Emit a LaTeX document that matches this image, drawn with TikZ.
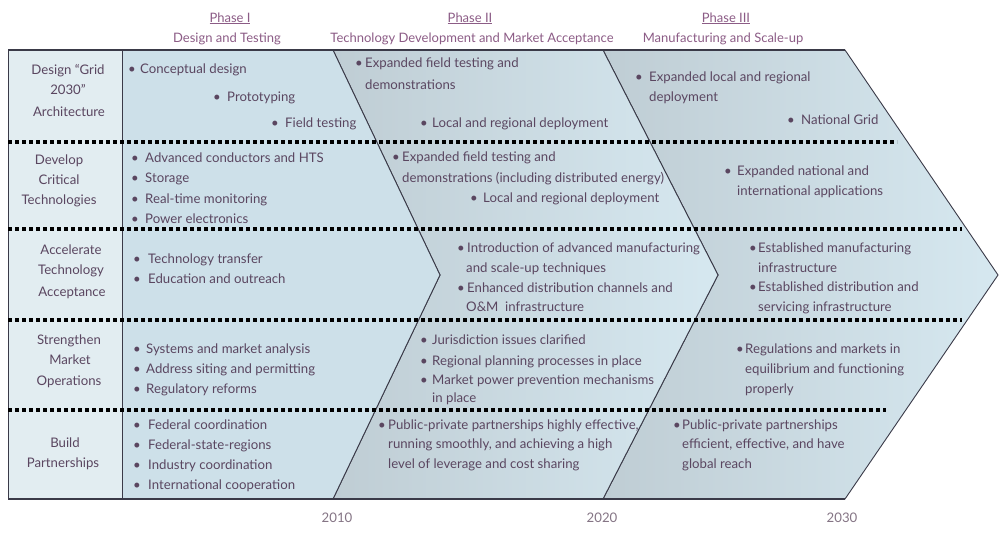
\documentclass[tikz,border=0pt]{standalone}
\usepackage{fontspec}
\setmainfont{Lato}
\definecolor{txtcol}{HTML}{5A4660}
\definecolor{headcol}{HTML}{8C5C86}
\definecolor{yearcol}{HTML}{857585}
\definecolor{leftfill}{HTML}{E2EDF1}
\definecolor{ponefill}{HTML}{CDE0E9}
\definecolor{pdark}{HTML}{BFCDD4}
\definecolor{plight}{HTML}{D6E8F0}
\definecolor{edgecol}{HTML}{3A3A48}
\newcommand\bodyfont{\fontsize{13.2}{15}\selectfont}
\newcommand\headfont{\fontsize{13}{15}\selectfont}
\newcommand\txtline[4]{\node[txt] (#1) at (#2,{#3+4}) {#4};}
\newcommand\bitem[5]{\node[bul] (#1b) at (#2,{#4+4}) {\textbullet};\node[txt] (#1) at (#3,{#4+4}) {#5};}
\newcommand\lab[4]{\node[lbl] (#1) at (#2,{#3+4}) {#4};}
\tikzset{
  txt/.style={anchor=base west, inner sep=0pt, font=\bodyfont, text=txtcol},
  bul/.style={anchor=base, inner sep=0pt, font=\bodyfont, text=txtcol},
  lbl/.style={anchor=base, inner sep=0pt, font=\bodyfont, text=txtcol},
  head/.style={anchor=base, inner sep=0pt, font=\headfont, text=headcol},
  year/.style={anchor=base, inner sep=0pt, font=\bodyfont, text=yearcol},
  chev/.style={draw=edgecol, line width=0.9pt, line join=miter},
  dotrow/.style={line width=4.2pt, dash pattern=on 4.2pt off 2.8pt, black}
}
\begin{document}
\begin{tikzpicture}[x=1pt,y=-1pt]
\useasboundingbox[fill=white] (0,0) rectangle (1003,546);
% chevrons
\shadedraw[chev, left color=pdark, right color=plight]
  (603,50) -- (845,50) -- (998,275) -- (845,499) -- (603,499) -- (718,275) -- cycle;
\shadedraw[chev, left color=pdark, right color=plight]
  (333,50) -- (603,50) -- (718,275) -- (603,499) -- (333,499) -- (440,275) -- cycle;
\filldraw[chev, fill=ponefill]
  (122,50) -- (333,50) -- (440,275) -- (333,499) -- (122,499) -- cycle;
\filldraw[chev, fill=leftfill] (8,50) rectangle (122,499);
\draw[edgecol, line width=1.6pt] (8,50) -- (845,50);
\draw[edgecol, line width=1.2pt] (8,499) -- (845,499);
% dotted row separators
\draw[dotrow] (8,142) -- (897,142);
\draw[dotrow] (8,229) -- (962,229);
\draw[dotrow] (8,320) -- (962,320);
\draw[dotrow] (8,410) -- (886,410);
% headers
\node[head] (h1) at (230,22) {\underline{Phase I}};
\node[head] (h1s) at (227,42) {Design and Testing};
\node[head] (h2) at (470,22) {\underline{Phase II}};
\node[head] (h2s) at (472,42) {Technology Development and Market Acceptance};
\node[head] (h3) at (726,22) {\underline{Phase III}};
\node[head] (h3s) at (723,42) {Manufacturing and Scale-up};
% left labels
\lab{la1}{68}{70}{Design “Grid}
\lab{la2}{68}{90}{2030”}
\lab{la3}{69}{112}{Architecture}
\lab{lb1}{59}{160}{Develop}
\lab{lb2}{59}{180}{Critical}
\lab{lb3}{59}{200}{Technologies}
\lab{lc1}{71}{250}{Accelerate}
\lab{lc2}{71}{270}{Technology}
\lab{lc3}{72}{292}{Acceptance}
\lab{ld1}{69}{340}{Strengthen}
\lab{ld2}{70}{360}{Market}
\lab{ld3}{69}{381}{Operations}
\lab{le1}{65}{443}{Build}
\lab{le2}{63}{463}{Partnerships}
% Phase I
\bitem{a1}{132}{140}{69}{Conceptual design}
\bitem{a2}{217}{227}{97}{Prototyping}
\bitem{a3}{275}{285}{123}{Field testing}
\bitem{b1}{135}{145}{158}{Advanced conductors and HTS}
\bitem{b2}{135}{145}{178}{Storage}
\bitem{b3}{135}{145}{199}{Real-time monitoring}
\bitem{b4}{135}{145}{219}{Power electronics}
\bitem{c1}{137}{148}{259}{Technology transfer}
\bitem{c2}{137}{148}{279}{Education and outreach}
\bitem{d1}{137}{146}{349}{Systems and market analysis}
\bitem{d2}{137}{146}{369}{Address siting and permitting}
\bitem{d3}{137}{146}{389}{Regulatory reforms}
\bitem{e1}{137}{148}{425}{Federal coordination}
\bitem{e2}{137}{148}{445}{Federal-state-regions}
\bitem{e3}{137}{148}{465}{Industry coordination}
\bitem{e4}{137}{148}{485}{International cooperation}
% Phase II
\bitem{f1}{359}{365}{63}{Expanded field testing and}
\txtline{f1x}{365}{85}{demonstrations}
\bitem{f2}{424}{432}{123}{Local and regional deployment}
\bitem{g1}{396}{402}{157}{Expanded field testing and}
\txtline{g1x}{402}{178}{demonstrations (including distributed energy)}
\bitem{g2}{474}{483}{198}{Local and regional deployment}
\bitem{i1}{461}{467}{248}{Introduction of advanced manufacturing}
\txtline{i1x}{466}{268}{and scale-up techniques}
\bitem{i2}{461}{467}{288}{Enhanced distribution channels and}
\txtline{i2x}{466}{307}{O\&M\ \ infrastructure}
\bitem{j1}{424}{432}{340}{Jurisdiction issues clarified}
\bitem{j2}{424}{432}{361}{Regional planning processes in place}
\bitem{j3}{424}{432}{380}{Market power prevention mechanisms}
\txtline{j3x}{432}{398}{in place}
\bitem{k1}{382}{388}{425}{Public-private partnerships highly effective,}
\txtline{k1x}{388}{444}{running smoothly, and achieving a high}
\txtline{k1y}{388}{464}{level of leverage and cost sharing}
% Phase III
\bitem{m1}{639}{649}{77}{Expanded local and regional}
\txtline{m1x}{649}{97}{deployment}
\bitem{m2}{791}{801}{120}{National Grid}
\bitem{n1}{728}{737}{171}{Expanded national and}
\txtline{n1x}{737}{191}{international applications}
\bitem{o1}{753}{758}{248}{Established manufacturing}
\txtline{o1x}{758}{268}{infrastructure}
\bitem{o2}{753}{758}{287}{Established distribution and}
\txtline{o2x}{758}{307}{servicing infrastructure}
\bitem{p1}{740}{745}{349}{Regulations and markets in}
\txtline{p1x}{745}{369}{equilibrium and functioning}
\txtline{p1y}{745}{389}{properly}
\bitem{q1}{677}{682}{425}{Public-private partnerships}
\txtline{q1x}{682}{444}{efficient, effective, and have}
\txtline{q1y}{682}{464}{global reach}
% years
\node[year] (y1) at (337,522) {2010};
\node[year] (y2) at (602,522) {2020};
\node[year] (y3) at (842,522) {2030};
\end{tikzpicture}
\end{document}
